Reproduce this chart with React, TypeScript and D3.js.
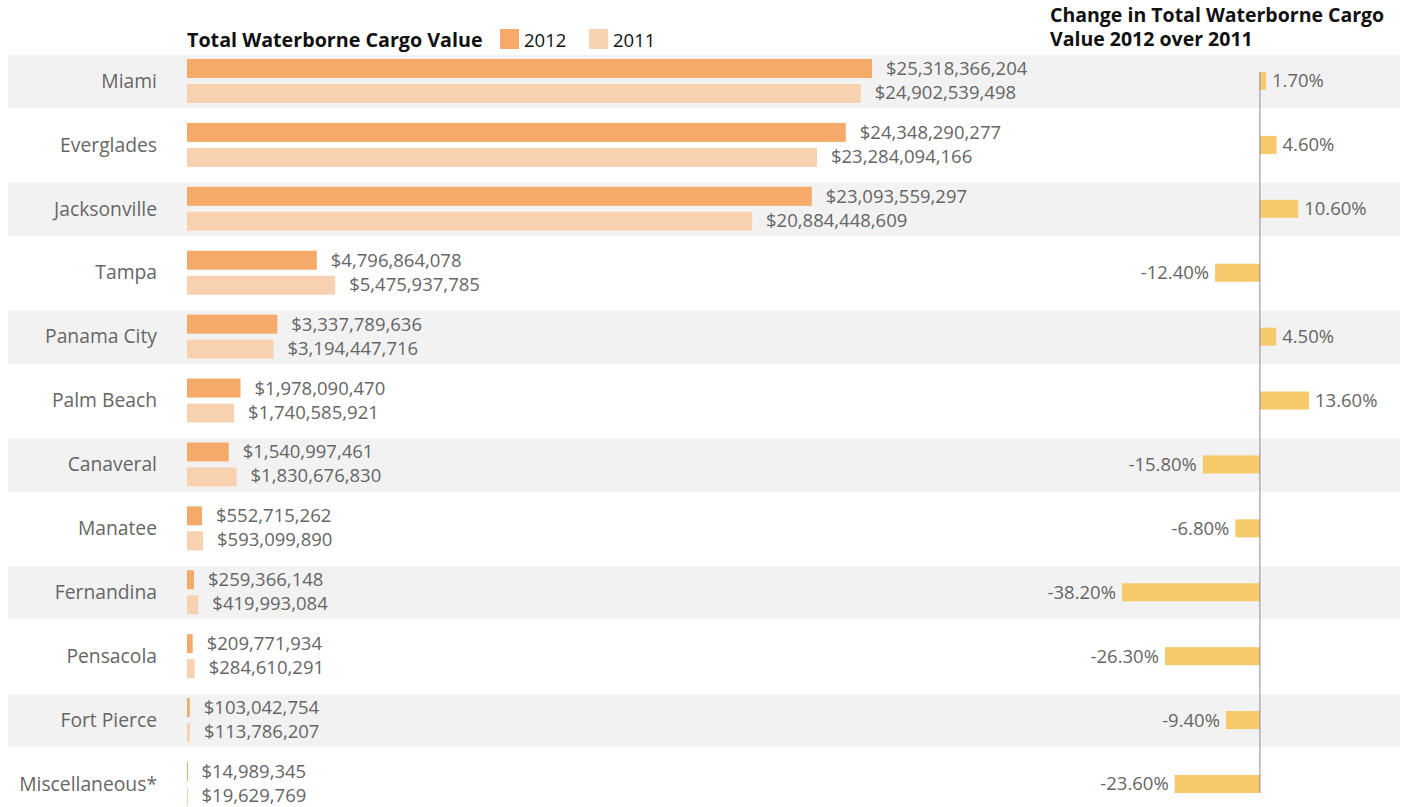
import React, { useRef, useEffect } from 'react';
import * as d3 from 'd3';

const ports = ['Miami', 'Everglades', 'Jacksonville', 'Tampa', 'Panama City', 'Palm Beach', 'Canaveral', 'Manatee', 'Fernandina', 'Pensacola', 'Fort Pierce', 'Miscellaneous*'];
const value2012 = [25318366204, 24348290277, 23093559297, 4796864078, 3337789636, 1978090470, 1540997461, 552715262, 259366148, 209771934, 103042754, 14989345];
const value2011 = [24902539498, 23284094166, 20884448609, 5475937785, 3194447716, 1740585921, 1830676830, 593099890, 419993084, 284610291, 113786207, 19629769];
const change = [1.7, 4.6, 10.6, -12.4, 4.5, 13.6, -15.8, -6.8, -38.2, -26.3, -9.4, -23.6];

const COLOR_2012 = '#f5aa69';
const COLOR_2011 = '#f8d1b0';
const COLOR_CHANGE = '#f6c96b';
const TEXT = '#666666';
const FONT = '"Open Sans", "Noto Sans", sans-serif';

const App: React.FC = () => {
    const svgRef = useRef<SVGSVGElement>(null);

    useEffect(() => {
        const svg = d3.select(svgRef.current);
        svg.selectAll('*').remove();

        const width = 1406;
        const height = 807;

        // row centers
        const y = d3.scalePoint<string>()
            .domain(ports)
            .range([81, 80 + 64 * (ports.length - 1)]);

        const x = d3.scaleLinear()
            .domain([0, d3.max(value2012) || 0])
            .range([187, 872]);

        const xc = d3.scaleLinear()
            .domain([-38.2, 13.6])
            .range([1122, 1309]);

        const fmt = (v: number) => '$' + d3.format(',')(v);
        const pct = (v: number) => v.toFixed(2) + '%';

        // alternating bands
        svg.append('g')
            .selectAll('rect')
            .data(ports.filter((_, i) => i % 2 === 0))
            .join('rect')
            .attr('x', 8)
            .attr('y', d => (y(d) || 0) - 26)
            .attr('width', 1392)
            .attr('height', 53)
            .attr('fill', '#f2f2f2');

        // category labels
        svg.append('g')
            .selectAll('text')
            .data(ports)
            .join('text')
            .attr('x', 157)
            .attr('y', d => y(d) || 0)
            .attr('dy', '0.35em')
            .attr('text-anchor', 'end')
            .attr('font-family', FONT)
            .attr('font-size', 19.3)
            .attr('fill', TEXT)
            .text(d => d);

        const barH = 19;

        // 2012 bars
        svg.append('g')
            .selectAll('rect')
            .data(ports)
            .join('rect')
            .attr('x', x(0))
            .attr('y', d => (y(d) || 0) - 22)
            .attr('width', (_, i) => Math.max(1, x(value2012[i]) - x(0)))
            .attr('height', barH)
            .attr('fill', COLOR_2012);

        svg.append('g')
            .selectAll('text')
            .data(ports)
            .join('text')
            .attr('x', (_, i) => x(value2012[i]) + 14)
            .attr('y', d => (y(d) || 0) - 12.5)
            .attr('dy', '0.35em')
            .attr('font-family', FONT)
            .attr('font-size', 18.5)
            .attr('fill', TEXT)
            .text((_, i) => fmt(value2012[i]));

        // 2011 bars
        svg.append('g')
            .selectAll('rect')
            .data(ports)
            .join('rect')
            .attr('x', x(0))
            .attr('y', d => (y(d) || 0) + 3)
            .attr('width', (_, i) => Math.max(1, x(value2011[i]) - x(0)))
            .attr('height', barH)
            .attr('fill', COLOR_2011);

        svg.append('g')
            .selectAll('text')
            .data(ports)
            .join('text')
            .attr('x', (_, i) => x(value2011[i]) + 14)
            .attr('y', d => (y(d) || 0) + 11.5)
            .attr('dy', '0.35em')
            .attr('font-family', FONT)
            .attr('font-size', 18.5)
            .attr('fill', TEXT)
            .text((_, i) => fmt(value2011[i]));

        // change bars
        svg.append('g')
            .selectAll('rect')
            .data(ports)
            .join('rect')
            .attr('x', (_, i) => Math.min(xc(0), xc(change[i])))
            .attr('y', d => (y(d) || 0) - 9)
            .attr('width', (_, i) => Math.abs(xc(change[i]) - xc(0)))
            .attr('height', 18)
            .attr('fill', COLOR_CHANGE);

        svg.append('g')
            .selectAll('text')
            .data(ports)
            .join('text')
            .attr('x', (_, i) => change[i] >= 0 ? xc(change[i]) + 6 : xc(change[i]) - 6)
            .attr('y', d => y(d) || 0)
            .attr('dy', '0.35em')
            .attr('text-anchor', (_, i) => change[i] >= 0 ? 'start' : 'end')
            .attr('font-family', FONT)
            .attr('font-size', 18.5)
            .attr('fill', TEXT)
            .text((_, i) => pct(change[i]));

        // zero line
        svg.append('line')
            .attr('x1', xc(0))
            .attr('x2', xc(0))
            .attr('y1', (y(ports[0]) || 0) - 9)
            .attr('y2', (y(ports[ports.length - 1]) || 0) + 9)
            .attr('stroke', '#8a8a8a')
            .attr('stroke-width', 1);

        // legend / titles
        svg.append('text')
            .attr('x', 187)
            .attr('y', 47)
            .attr('font-family', FONT)
            .attr('font-size', 19.7)
            .attr('font-weight', 700)
            .attr('fill', '#111')
            .text('Total Waterborne Cargo Value');

        const legend = [
            { label: '2012', color: COLOR_2012, x: 500 },
            { label: '2011', color: COLOR_2011, x: 589 },
        ];
        const lg = svg.append('g');
        lg.selectAll('rect')
            .data(legend)
            .join('rect')
            .attr('x', d => d.x)
            .attr('y', 29)
            .attr('width', 19)
            .attr('height', 20)
            .attr('fill', d => d.color);
        lg.selectAll('text')
            .data(legend)
            .join('text')
            .attr('x', d => d.x + 24)
            .attr('y', 47)
            .attr('font-family', FONT)
            .attr('font-size', 18.5)
            .attr('fill', '#111')
            .text(d => d.label);

        const rt = svg.append('text')
            .attr('font-family', FONT)
            .attr('font-size', 19.5)
            .attr('font-weight', 700)
            .attr('fill', '#111');
        rt.append('tspan').attr('x', 1050).attr('y', 22).text('Change in Total Waterborne Cargo');
        rt.append('tspan').attr('x', 1050).attr('y', 46).text('Value 2012 over 2011');

        svg.attr('width', width).attr('height', height);
    }, []);

    return (
        <svg ref={svgRef} width={1406} height={807} style={{ position: 'absolute', left: 0, top: 0 }}></svg>
    );
};

export default App;
